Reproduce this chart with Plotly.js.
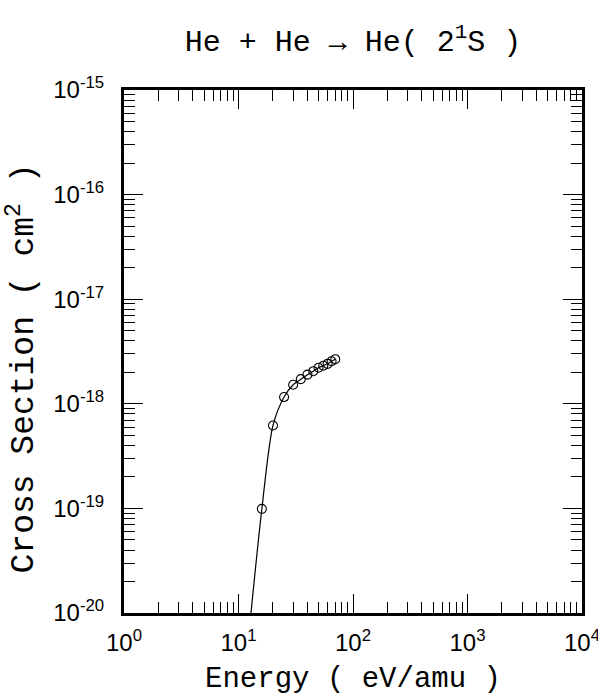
<!DOCTYPE html>
<html>
<head>
<meta charset="utf-8">
<script src="https://cdn.plot.ly/plotly-3.0.1.min.js"></script>
<style>html,body{margin:0;padding:0;background:#fff;}</style>
</head>
<body>
<div id="chart" style="width:598px;height:696px;"></div>
<script>
// Measured points (circles)
const energy = [16, 20, 25, 30, 35, 40, 45, 50, 55, 60, 65, 70];
const crossSection = [9.9e-20, 6.2e-19, 1.16e-18, 1.52e-18, 1.72e-18, 1.90e-18, 2.05e-18, 2.21e-18, 2.31e-18, 2.41e-18, 2.55e-18, 2.67e-18];
// Fit curve (solid line)
const fitEnergy = [12.85, 16, 20, 25, 30, 35, 40, 45, 50, 55, 60, 65, 70];
const fitCross = [1.0e-20, 9.9e-20, 6.2e-19, 1.16e-18, 1.52e-18, 1.72e-18, 1.90e-18, 2.05e-18, 2.21e-18, 2.31e-18, 2.41e-18, 2.55e-18, 2.67e-18];
// Tick labels
const xTickVals = [1, 10, 100, 1000, 10000];
const xTickText = ['10<sup>0</sup>', '10<sup>1</sup>', '10<sup>2</sup>', '10<sup>3</sup>', '10<sup>4</sup>'];
const yTickVals = [1e-20, 1e-19, 1e-18, 1e-17, 1e-16, 1e-15];
const yTickText = ['10<sup>-20</sup>', '10<sup>-19</sup>', '10<sup>-18</sup>', '10<sup>-17</sup>', '10<sup>-16</sup>', '10<sup>-15</sup>'];
const yTitle = 'Cross Section ( cm<sup>2</sup> )';
const xTitle = 'Energy ( eV/amu )';
const mainTitle = 'He + He \u2192 He( 2<sup>1</sup>S )';

function minorVals(lo, hi) {
  const out = [];
  for (let p = lo; p < hi; p++) for (let m = 2; m <= 9; m++) out.push(m * Math.pow(10, p));
  return out;
}

const tickFont = {family: 'Liberation Sans, Arial, sans-serif', size: 24, color: '#000'};
const titleFont = {family: 'Liberation Mono, DejaVu Sans Mono, monospace', color: '#000'};

const traces = [
  {x: fitEnergy, y: fitCross, mode: 'lines', line: {color: '#000', width: 1.2, shape: 'spline', smoothing: 0.8}, hoverinfo: 'skip', showlegend: false},
  {x: energy, y: crossSection, mode: 'markers', marker: {symbol: 'circle-open', size: 9, color: '#000', line: {width: 1.1, color: '#000'}}, showlegend: false}
];

const axisCommon = {
  type: 'log', showgrid: false, zeroline: false,
  showline: true, linewidth: 3, linecolor: '#000', mirror: 'allticks',
  ticks: 'inside', ticklen: 19, tickwidth: 1, tickcolor: '#000',
  tickmode: 'array', tickfont: tickFont, ticklabeloverflow: 'allow'
};

const layout = {
  width: 598, height: 696,
  margin: {l: 124, r: 16, t: 90, b: 83},
  paper_bgcolor: '#fff', plot_bgcolor: '#fff',
  title: {text: mainTitle, font: Object.assign({size: 30}, titleFont), x: 0.5, xref: 'paper', y: 1 - 40/696, yref: 'container', yanchor: 'middle'},
  xaxis: Object.assign({}, axisCommon, {
    range: [0, 4], tickvals: xTickVals, ticktext: xTickText, ticklabelstandoff: 6,
    minor: {tickmode: 'array', tickvals: minorVals(0, 4), ticks: 'inside', ticklen: 11, tickwidth: 1, tickcolor: '#000'},
    title: {text: xTitle, font: Object.assign({size: 29}, titleFont), standoff: 18}
  }),
  yaxis: Object.assign({}, axisCommon, {
    range: [-20, -15], tickvals: yTickVals, ticktext: yTickText, ticklabelstandoff: 12,
    minor: {tickmode: 'array', tickvals: minorVals(-20, -15), ticks: 'inside', ticklen: 11, tickwidth: 1, tickcolor: '#000'}
  }),
  annotations: [{
    text: yTitle, textangle: -90, showarrow: false,
    xref: 'paper', yref: 'paper', x: (22 - 124) / 458, y: (613 - 368) / 524,
    xanchor: 'center', yanchor: 'middle',
    font: Object.assign({size: 33}, titleFont)
  }]
};

Plotly.newPlot('chart', traces, layout, {displayModeBar: false, staticPlot: true});
</script>
</body>
</html>
